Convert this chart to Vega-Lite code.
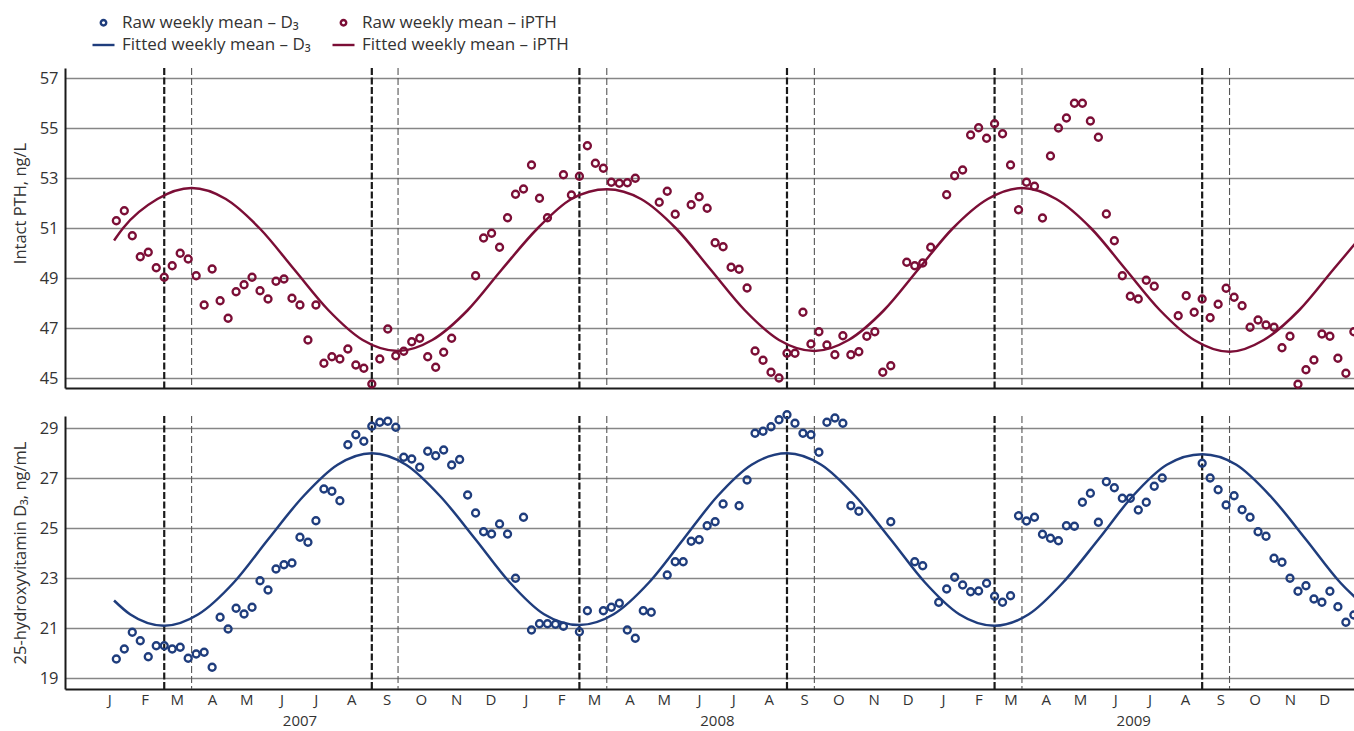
{
  "$schema": "https://vega.github.io/schema/vega-lite/v6.json",
  "autosize": {"type": "pad"},
  "padding": {"left": 11, "top": 10, "right": 0, "bottom": 0},
  "background": "white",
  "spacing": 13,
  "config": {
    "font": "Open Sans",
    "view": {"stroke": null},
    "axis": {
      "labelFont": "Open Sans", "labelFontSize": 16.5, "labelColor": "#333333",
      "titleFont": "Open Sans", "titleFontSize": 16.5, "titleFontWeight": "normal", "titleColor": "#333333",
      "domainColor": "#1a1a1a", "domainWidth": 2, "gridColor": "#868686", "gridWidth": 1.6, "ticks": false
    },
    "legend": {
      "symbolSize": 484, "symbolStrokeWidth": 2.4, "labelFont": "Open Sans", "labelFontSize": 17,
      "labelColor": "#333333", "labelOffset": 6, "columnPadding": 16, "rowPadding": 1.5, "padding": 0, "labelLimit": 400
    }
  },
  "datasets": {
    "pth": [
      {"date":"2007-01-22","value":51.29},{"date":"2007-01-29","value":51.69},{"date":"2007-02-05","value":50.69},{"date":"2007-02-12","value":49.85},
      {"date":"2007-02-19","value":50.03},{"date":"2007-02-26","value":49.41},{"date":"2007-03-05","value":49.03},{"date":"2007-03-12","value":49.49},
      {"date":"2007-03-19","value":49.99},{"date":"2007-03-26","value":49.76},{"date":"2007-04-02","value":49.09},{"date":"2007-04-09","value":47.92},
      {"date":"2007-04-16","value":49.36},{"date":"2007-04-23","value":48.09},{"date":"2007-04-30","value":47.39},{"date":"2007-05-07","value":48.45},
      {"date":"2007-05-14","value":48.73},{"date":"2007-05-21","value":49.03},{"date":"2007-05-28","value":48.49},{"date":"2007-06-04","value":48.16},
      {"date":"2007-06-11","value":48.87},{"date":"2007-06-18","value":48.96},{"date":"2007-06-25","value":48.19},{"date":"2007-07-02","value":47.92},
      {"date":"2007-07-09","value":46.52},{"date":"2007-07-16","value":47.92},{"date":"2007-07-23","value":45.59},{"date":"2007-07-30","value":45.85},
      {"date":"2007-08-06","value":45.76},{"date":"2007-08-13","value":46.16},{"date":"2007-08-20","value":45.52},{"date":"2007-08-27","value":45.39},
      {"date":"2007-09-03","value":44.76},{"date":"2007-09-10","value":45.76},{"date":"2007-09-17","value":46.96},{"date":"2007-09-24","value":45.89},
      {"date":"2007-10-01","value":46.07},{"date":"2007-10-08","value":46.45},{"date":"2007-10-15","value":46.59},{"date":"2007-10-22","value":45.85},
      {"date":"2007-10-29","value":45.43},{"date":"2007-11-05","value":46.03},{"date":"2007-11-12","value":46.59},
      {"date":"2007-12-03","value":49.09},{"date":"2007-12-10","value":50.6},{"date":"2007-12-17","value":50.79},{"date":"2007-12-24","value":50.23},
      {"date":"2007-12-31","value":51.41},{"date":"2008-01-07","value":52.35},{"date":"2008-01-14","value":52.56},{"date":"2008-01-21","value":53.52},
      {"date":"2008-01-28","value":52.19},{"date":"2008-02-04","value":51.41},{"date":"2008-02-18","value":53.13},{"date":"2008-02-25","value":52.32},
      {"date":"2008-03-03","value":53.07},{"date":"2008-03-10","value":54.29},{"date":"2008-03-17","value":53.59},{"date":"2008-03-24","value":53.39},
      {"date":"2008-03-31","value":52.83},{"date":"2008-04-07","value":52.79},{"date":"2008-04-14","value":52.81},{"date":"2008-04-21","value":52.99},
      {"date":"2008-05-12","value":52.03},{"date":"2008-05-19","value":52.47},{"date":"2008-05-26","value":51.55},
      {"date":"2008-06-09","value":51.93},{"date":"2008-06-16","value":52.25},{"date":"2008-06-23","value":51.79},{"date":"2008-06-30","value":50.41},
      {"date":"2008-07-07","value":50.25},{"date":"2008-07-14","value":49.43},{"date":"2008-07-21","value":49.35},{"date":"2008-07-28","value":48.6},
      {"date":"2008-08-04","value":46.08},{"date":"2008-08-11","value":45.71},{"date":"2008-08-18","value":45.23},{"date":"2008-08-25","value":45.0},
      {"date":"2008-09-01","value":45.99},{"date":"2008-09-08","value":45.99},{"date":"2008-09-15","value":47.63},{"date":"2008-09-22","value":46.36},
      {"date":"2008-09-29","value":46.85},{"date":"2008-10-06","value":46.32},{"date":"2008-10-13","value":45.93},{"date":"2008-10-20","value":46.69},
      {"date":"2008-10-27","value":45.93},{"date":"2008-11-03","value":46.05},{"date":"2008-11-10","value":46.67},{"date":"2008-11-17","value":46.85},
      {"date":"2008-11-24","value":45.23},{"date":"2008-12-01","value":45.49},
      {"date":"2008-12-15","value":49.63},{"date":"2008-12-22","value":49.49},{"date":"2008-12-29","value":49.6},{"date":"2009-01-05","value":50.23},
      {"date":"2009-01-19","value":52.33},{"date":"2009-01-26","value":53.09},{"date":"2009-02-02","value":53.32},{"date":"2009-02-09","value":54.72},
      {"date":"2009-02-16","value":55.01},{"date":"2009-02-23","value":54.59},{"date":"2009-03-02","value":55.17},{"date":"2009-03-09","value":54.77},
      {"date":"2009-03-16","value":53.52},{"date":"2009-03-23","value":51.73},{"date":"2009-03-30","value":52.83},{"date":"2009-04-06","value":52.67},
      {"date":"2009-04-13","value":51.4},{"date":"2009-04-20","value":53.88},{"date":"2009-04-27","value":55.0},{"date":"2009-05-04","value":55.4},
      {"date":"2009-05-11","value":55.99},{"date":"2009-05-18","value":55.99},{"date":"2009-05-25","value":55.28},{"date":"2009-06-01","value":54.63},
      {"date":"2009-06-08","value":51.56},{"date":"2009-06-15","value":50.49},{"date":"2009-06-22","value":49.09},{"date":"2009-06-29","value":48.27},
      {"date":"2009-07-06","value":48.16},{"date":"2009-07-13","value":48.91},{"date":"2009-07-20","value":48.67},
      {"date":"2009-08-10","value":47.49},{"date":"2009-08-17","value":48.29},{"date":"2009-08-24","value":47.63},{"date":"2009-08-31","value":48.16},
      {"date":"2009-09-07","value":47.41},{"date":"2009-09-14","value":47.95},{"date":"2009-09-21","value":48.59},{"date":"2009-09-28","value":48.23},
      {"date":"2009-10-05","value":47.89},{"date":"2009-10-12","value":47.03},{"date":"2009-10-19","value":47.32},{"date":"2009-10-26","value":47.12},
      {"date":"2009-11-02","value":47.03},{"date":"2009-11-09","value":46.21},{"date":"2009-11-16","value":46.67},{"date":"2009-11-23","value":44.75},
      {"date":"2009-11-30","value":45.33},{"date":"2009-12-07","value":45.72},{"date":"2009-12-14","value":46.76},{"date":"2009-12-21","value":46.67},
      {"date":"2009-12-28","value":45.79},{"date":"2010-01-04","value":45.19},{"date":"2010-01-11","value":46.85}
    ],
    "d3": [
      {"date":"2007-01-22","value":19.76},{"date":"2007-01-29","value":20.16},{"date":"2007-02-05","value":20.83},{"date":"2007-02-12","value":20.49},
      {"date":"2007-02-19","value":19.85},{"date":"2007-02-26","value":20.29},{"date":"2007-03-05","value":20.29},{"date":"2007-03-12","value":20.16},
      {"date":"2007-03-19","value":20.23},{"date":"2007-03-26","value":19.79},{"date":"2007-04-02","value":19.96},{"date":"2007-04-09","value":20.03},
      {"date":"2007-04-16","value":19.43},{"date":"2007-04-23","value":21.43},{"date":"2007-04-30","value":20.96},{"date":"2007-05-07","value":21.79},
      {"date":"2007-05-14","value":21.56},{"date":"2007-05-21","value":21.83},{"date":"2007-05-28","value":22.89},{"date":"2007-06-04","value":22.52},
      {"date":"2007-06-11","value":23.36},{"date":"2007-06-18","value":23.53},{"date":"2007-06-25","value":23.6},{"date":"2007-07-02","value":24.63},
      {"date":"2007-07-09","value":24.43},{"date":"2007-07-16","value":25.29},{"date":"2007-07-23","value":26.56},{"date":"2007-07-30","value":26.47},
      {"date":"2007-08-06","value":26.09},{"date":"2007-08-13","value":28.33},{"date":"2007-08-20","value":28.73},{"date":"2007-08-27","value":28.47},
      {"date":"2007-09-03","value":29.07},{"date":"2007-09-10","value":29.23},{"date":"2007-09-17","value":29.27},{"date":"2007-09-24","value":29.03},
      {"date":"2007-10-01","value":27.83},{"date":"2007-10-08","value":27.76},{"date":"2007-10-15","value":27.43},{"date":"2007-10-22","value":28.07},
      {"date":"2007-10-29","value":27.89},{"date":"2007-11-05","value":28.12},{"date":"2007-11-12","value":27.52},{"date":"2007-11-19","value":27.74},
      {"date":"2007-11-26","value":26.32},{"date":"2007-12-03","value":25.6},{"date":"2007-12-10","value":24.85},{"date":"2007-12-17","value":24.76},
      {"date":"2007-12-24","value":25.16},{"date":"2007-12-31","value":24.76},{"date":"2008-01-07","value":22.99},{"date":"2008-01-14","value":25.43},
      {"date":"2008-01-21","value":20.92},{"date":"2008-01-28","value":21.17},{"date":"2008-02-04","value":21.17},{"date":"2008-02-11","value":21.15},
      {"date":"2008-02-18","value":21.07},{"date":"2008-03-03","value":20.85},{"date":"2008-03-10","value":21.69},
      {"date":"2008-03-24","value":21.69},{"date":"2008-03-31","value":21.83},{"date":"2008-04-07","value":21.99},{"date":"2008-04-14","value":20.92},
      {"date":"2008-04-21","value":20.59},{"date":"2008-04-28","value":21.69},{"date":"2008-05-05","value":21.63},
      {"date":"2008-05-19","value":23.12},{"date":"2008-05-26","value":23.65},{"date":"2008-06-02","value":23.65},{"date":"2008-06-09","value":24.47},
      {"date":"2008-06-16","value":24.53},{"date":"2008-06-23","value":25.09},{"date":"2008-06-30","value":25.25},{"date":"2008-07-07","value":25.96},
      {"date":"2008-07-21","value":25.89},{"date":"2008-07-28","value":26.92},{"date":"2008-08-04","value":28.79},{"date":"2008-08-11","value":28.87},
      {"date":"2008-08-18","value":29.05},{"date":"2008-08-25","value":29.33},{"date":"2008-09-01","value":29.53},{"date":"2008-09-08","value":29.19},
      {"date":"2008-09-15","value":28.79},{"date":"2008-09-22","value":28.73},{"date":"2008-09-29","value":28.03},{"date":"2008-10-06","value":29.23},
      {"date":"2008-10-13","value":29.4},{"date":"2008-10-20","value":29.19},{"date":"2008-10-27","value":25.89},{"date":"2008-11-03","value":25.67},
      {"date":"2008-12-01","value":25.25},
      {"date":"2008-12-22","value":23.65},{"date":"2008-12-29","value":23.49},
      {"date":"2009-01-12","value":22.03},{"date":"2009-01-19","value":22.56},{"date":"2009-01-26","value":23.03},{"date":"2009-02-02","value":22.72},
      {"date":"2009-02-09","value":22.45},{"date":"2009-02-16","value":22.48},{"date":"2009-02-23","value":22.79},{"date":"2009-03-02","value":22.27},
      {"date":"2009-03-09","value":22.03},{"date":"2009-03-16","value":22.29},{"date":"2009-03-23","value":25.49},{"date":"2009-03-30","value":25.28},
      {"date":"2009-04-06","value":25.43},{"date":"2009-04-13","value":24.75},{"date":"2009-04-20","value":24.59},{"date":"2009-04-27","value":24.49},
      {"date":"2009-05-04","value":25.09},{"date":"2009-05-11","value":25.07},{"date":"2009-05-18","value":26.03},{"date":"2009-05-25","value":26.39},
      {"date":"2009-06-01","value":25.23},{"date":"2009-06-08","value":26.85},{"date":"2009-06-15","value":26.61},{"date":"2009-06-22","value":26.19},
      {"date":"2009-06-29","value":26.19},{"date":"2009-07-06","value":25.72},{"date":"2009-07-13","value":26.03},{"date":"2009-07-20","value":26.67},
      {"date":"2009-07-27","value":27.0},
      {"date":"2009-08-31","value":27.59},{"date":"2009-09-07","value":27.0},{"date":"2009-09-14","value":26.53},{"date":"2009-09-21","value":25.92},
      {"date":"2009-09-28","value":26.29},{"date":"2009-10-05","value":25.73},{"date":"2009-10-12","value":25.43},{"date":"2009-10-19","value":24.85},
      {"date":"2009-10-26","value":24.67},{"date":"2009-11-02","value":23.79},{"date":"2009-11-09","value":23.63},{"date":"2009-11-16","value":22.99},
      {"date":"2009-11-23","value":22.47},{"date":"2009-11-30","value":22.69},{"date":"2009-12-07","value":22.16},{"date":"2009-12-14","value":22.03},
      {"date":"2009-12-21","value":22.47},{"date":"2009-12-28","value":21.85},{"date":"2010-01-04","value":21.23},{"date":"2010-01-11","value":21.52}
    ],
    "pthfit": [
      {"date":"2007-01-20","value":50.5},{"date":"2007-01-28","value":51.0},{"date":"2007-02-27","value":52.16},{"date":"2007-03-29","value":52.6},
      {"date":"2007-04-28","value":52.16},{"date":"2007-05-28","value":50.97},{"date":"2007-06-27","value":49.34},{"date":"2007-07-27","value":47.71},
      {"date":"2007-08-26","value":46.52},{"date":"2007-09-26","value":46.08},{"date":"2007-10-26","value":46.52},{"date":"2007-11-26","value":47.71},
      {"date":"2007-12-26","value":49.34},{"date":"2008-01-26","value":50.97},{"date":"2008-02-25","value":52.16},{"date":"2008-03-27","value":52.55},
      {"date":"2008-04-26","value":52.16},{"date":"2008-05-27","value":50.97},{"date":"2008-06-26","value":49.34},{"date":"2008-07-26","value":47.71},
      {"date":"2008-08-25","value":46.52},{"date":"2008-09-25","value":46.08},{"date":"2008-10-25","value":46.52},{"date":"2008-11-25","value":47.71},
      {"date":"2008-12-25","value":49.34},{"date":"2009-01-24","value":50.97},{"date":"2009-02-24","value":52.16},{"date":"2009-03-26","value":52.6},
      {"date":"2009-04-25","value":52.16},{"date":"2009-05-26","value":50.97},{"date":"2009-06-25","value":49.34},{"date":"2009-07-25","value":47.71},
      {"date":"2009-08-24","value":46.52},{"date":"2009-09-24","value":46.05},{"date":"2009-10-24","value":46.52},{"date":"2009-11-24","value":47.71},
      {"date":"2009-12-24","value":49.34},{"date":"2010-01-23","value":50.97}
    ],
    "d3fit": [
      {"date":"2007-01-20","value":22.1},{"date":"2007-02-03","value":21.55},{"date":"2007-03-05","value":21.09},{"date":"2007-04-04","value":21.55},
      {"date":"2007-05-05","value":22.82},{"date":"2007-06-04","value":24.54},{"date":"2007-07-05","value":26.27},{"date":"2007-08-04","value":27.53},
      {"date":"2007-09-03","value":27.99},{"date":"2007-10-03","value":27.53},{"date":"2007-11-02","value":26.27},{"date":"2007-12-03","value":24.54},
      {"date":"2008-01-02","value":22.82},{"date":"2008-02-01","value":21.55},{"date":"2008-03-03","value":21.12},{"date":"2008-04-02","value":21.55},
      {"date":"2008-05-03","value":22.82},{"date":"2008-06-02","value":24.54},{"date":"2008-07-02","value":26.27},{"date":"2008-08-01","value":27.53},
      {"date":"2008-09-01","value":27.99},{"date":"2008-10-01","value":27.53},{"date":"2008-10-31","value":26.27},{"date":"2008-12-01","value":24.54},
      {"date":"2008-12-31","value":22.82},{"date":"2009-01-30","value":21.55},{"date":"2009-03-02","value":21.09},{"date":"2009-04-01","value":21.55},
      {"date":"2009-05-01","value":22.82},{"date":"2009-06-01","value":24.54},{"date":"2009-07-01","value":26.27},{"date":"2009-07-31","value":27.53},
      {"date":"2009-08-31","value":27.95},{"date":"2009-09-30","value":27.53},{"date":"2009-10-30","value":26.27},{"date":"2009-11-30","value":24.54},
      {"date":"2009-12-30","value":22.82},{"date":"2010-01-29","value":21.55}
    ],
    "thick": [
      {"date":"2007-03-05"},{"date":"2007-09-03"},{"date":"2008-03-03"},{"date":"2008-09-01"},{"date":"2009-03-02"},{"date":"2009-08-31"}
    ],
    "thin": [
      {"date":"2007-03-29"},{"date":"2007-09-26"},{"date":"2008-03-27"},{"date":"2008-09-25"},{"date":"2009-03-26"},{"date":"2009-09-24"}
    ],
    "years": [
      {"date":"2007-07-02","label":"2007"},{"date":"2008-07-02","label":"2008"},{"date":"2009-07-02","label":"2009"}
    ]
  },
  "resolve": {"scale": {"color": "shared", "shape": "shared"}, "legend": {"color": "shared", "shape": "shared"}},
  "vconcat": [
    {
      "width": 1290,
      "height": 320,
      "layer": [
        {
          "data": {"name": "thick"},
          "mark": {"type": "rule", "color": "#1a1a1a", "strokeWidth": 2.2, "strokeDash": [7, 2.5]},
          "encoding": {
            "x": {"field": "date", "type": "temporal",
              "scale": {"type": "utc", "nice": false, "domain": [{"year": 2006, "month": 12, "date": 8, "utc": true}, {"year": 2010, "month": 1, "date": 12, "utc": true}]},
              "axis": {"title": null, "labels": false, "ticks": false, "grid": false, "domain": true, "minExtent": 0, "maxExtent": 0}}
          }
        },
        {
          "data": {"name": "thin"},
          "mark": {"type": "rule", "color": "#555555", "strokeWidth": 1.1, "strokeDash": [7, 3]},
          "encoding": {"x": {"field": "date", "type": "temporal"}}
        },
        {
          "data": {"name": "pthfit"},
          "mark": {"type": "line", "strokeWidth": 2.5, "interpolate": "monotone", "clip": true},
          "encoding": {
            "x": {"field": "date", "type": "temporal"},
            "y": {"field": "value", "type": "quantitative"},
            "color": {"datum": "Fitted weekly mean – iPTH",
              "scale": {"domain": ["Raw weekly mean – D₃", "Fitted weekly mean – D₃", "Raw weekly mean – iPTH", "Fitted weekly mean – iPTH"], "range": ["#1f3d7d", "#1f3d7d", "#7b0e36", "#7b0e36"]},
              "legend": {"orient": "none", "legendX": 26, "legendY": -58, "columns": 2, "title": null}}
          }
        },
        {
          "data": {"name": "pth"},
          "mark": {"type": "point", "filled": false, "strokeWidth": 2.3, "size": 784, "opacity": 1},
          "encoding": {
            "x": {"field": "date", "type": "temporal"},
            "y": {"field": "value", "type": "quantitative",
              "scale": {"domain": [44.6, 57.4], "nice": false, "zero": false},
              "axis": {"title": "Intact PTH, ng/L", "values": [45, 47, 49, 51, 53, 55, 57], "grid": true, "labelPadding": 7, "titleX": -37, "titleY": 135, "titleBaseline": "bottom"}},
            "color": {"datum": "Raw weekly mean – iPTH",
              "scale": {"domain": ["Raw weekly mean – D₃", "Fitted weekly mean – D₃", "Raw weekly mean – iPTH", "Fitted weekly mean – iPTH"], "range": ["#1f3d7d", "#1f3d7d", "#7b0e36", "#7b0e36"]},
              "legend": {"orient": "none", "legendX": 26, "legendY": -58, "columns": 2, "title": null}},
            "shape": {"datum": "Raw weekly mean – iPTH",
              "scale": {"domain": ["Raw weekly mean – D₃", "Fitted weekly mean – D₃", "Raw weekly mean – iPTH", "Fitted weekly mean – iPTH"], "range": ["M-0.25,0A0.25,0.25,0,1,1,0.25,0A0.25,0.25,0,1,1,-0.25,0Z", "stroke", "M-0.25,0A0.25,0.25,0,1,1,0.25,0A0.25,0.25,0,1,1,-0.25,0Z", "stroke"]},
              "legend": {"orient": "none", "legendX": 26, "legendY": -58, "columns": 2, "title": null}}
          }
        }
      ]
    },
    {
      "width": 1290,
      "height": 273,
      "layer": [
        {
          "data": {"name": "thick"},
          "mark": {"type": "rule", "color": "#1a1a1a", "strokeWidth": 2.2, "strokeDash": [7, 2.5]},
          "encoding": {
            "x": {"field": "date", "type": "temporal",
              "scale": {"type": "utc", "nice": false, "domain": [{"year": 2006, "month": 12, "date": 8, "utc": true}, {"year": 2010, "month": 1, "date": 12, "utc": true}]},
              "axis": {"title": null, "grid": false, "ticks": false, "tickCount": {"interval": "month", "step": 1},
                "labelExpr": "datum.value >= utc(2010, 0, 1) ? '' : substring(utcFormat(datum.value, '%b'), 0, 1)", "labelOffset": 17, "labelPadding": 3, "labelFontSize": 15,
                "labelOverlap": false, "labelFlush": false, "labelBound": false, "labelAlign": "center"}}
          }
        },
        {
          "data": {"name": "thin"},
          "mark": {"type": "rule", "color": "#555555", "strokeWidth": 1.1, "strokeDash": [7, 3]},
          "encoding": {"x": {"field": "date", "type": "temporal"}}
        },
        {
          "data": {"name": "d3fit"},
          "mark": {"type": "line", "strokeWidth": 2.5, "interpolate": "monotone", "clip": true},
          "encoding": {
            "x": {"field": "date", "type": "temporal"},
            "y": {"field": "value", "type": "quantitative"},
            "color": {"datum": "Fitted weekly mean – D₃",
              "scale": {"domain": ["Raw weekly mean – D₃", "Fitted weekly mean – D₃", "Raw weekly mean – iPTH", "Fitted weekly mean – iPTH"], "range": ["#1f3d7d", "#1f3d7d", "#7b0e36", "#7b0e36"]},
              "legend": {"orient": "none", "legendX": 26, "legendY": -58, "columns": 2, "title": null}}
          }
        },
        {
          "data": {"name": "d3"},
          "mark": {"type": "point", "filled": false, "strokeWidth": 2.3, "size": 784, "opacity": 1},
          "encoding": {
            "x": {"field": "date", "type": "temporal"},
            "y": {"field": "value", "type": "quantitative",
              "scale": {"domain": [18.56, 29.48], "nice": false, "zero": false},
              "axis": {"title": "25-hydroxyvitamin D₃, ng/mL", "values": [19, 21, 23, 25, 27, 29], "grid": true, "labelPadding": 7, "titleX": -37, "titleBaseline": "bottom"}},
            "color": {"datum": "Raw weekly mean – D₃",
              "scale": {"domain": ["Raw weekly mean – D₃", "Fitted weekly mean – D₃", "Raw weekly mean – iPTH", "Fitted weekly mean – iPTH"], "range": ["#1f3d7d", "#1f3d7d", "#7b0e36", "#7b0e36"]},
              "legend": {"orient": "none", "legendX": 26, "legendY": -58, "columns": 2, "title": null}},
            "shape": {"datum": "Raw weekly mean – D₃",
              "scale": {"domain": ["Raw weekly mean – D₃", "Fitted weekly mean – D₃", "Raw weekly mean – iPTH", "Fitted weekly mean – iPTH"], "range": ["M-0.25,0A0.25,0.25,0,1,1,0.25,0A0.25,0.25,0,1,1,-0.25,0Z", "stroke", "M-0.25,0A0.25,0.25,0,1,1,0.25,0A0.25,0.25,0,1,1,-0.25,0Z", "stroke"]},
              "legend": {"orient": "none", "legendX": 26, "legendY": -58, "columns": 2, "title": null}}
          }
        },
        {
          "data": {"name": "years"},
          "mark": {"type": "text", "fontSize": 15, "color": "#333333", "baseline": "middle", "align": "center"},
          "encoding": {
            "x": {"field": "date", "type": "temporal"},
            "y": {"datum": 17.3, "type": "quantitative"},
            "text": {"field": "label"}
          }
        }
      ]
    }
  ]
}
